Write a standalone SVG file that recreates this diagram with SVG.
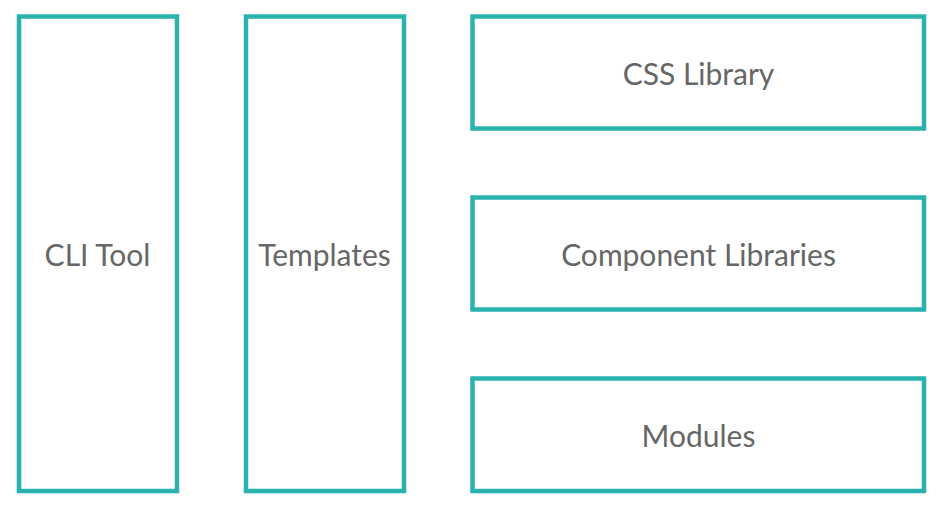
<svg xmlns="http://www.w3.org/2000/svg" width="943" height="513" viewBox="0 0 943 513">
<style>
.box{fill:#ffffff;stroke:#2ab3ae;stroke-width:4.5}
.lbl{font-family:Lato,"Noto Sans",sans-serif;font-size:30px;fill:#666666;text-anchor:middle;dominant-baseline:central}
</style>
<rect width="943" height="513" fill="#ffffff"/>
<g id="cli-tool"><rect class="box" x="19" y="16.5" width="158" height="474.5"/><text class="lbl" x="97.5" y="254">CLI Tool</text></g>
<g id="templates"><rect class="box" x="246" y="16.5" width="158" height="474.5"/><text class="lbl" x="324.5" y="254">Templates</text></g>
<g id="css-library"><rect class="box" x="472.5" y="16.5" width="451.5" height="112"/><text class="lbl" x="698.5" y="73">CSS Library</text></g>
<g id="component-libraries"><rect class="box" x="472.5" y="197.5" width="451.5" height="112"/><text class="lbl" x="698.5" y="254">Component Libraries</text></g>
<g id="modules"><rect class="box" x="472.5" y="378.5" width="451.5" height="112.5"/><text class="lbl" x="698.5" y="435">Modules</text></g>
<g id="connectors"></g>
</svg>
